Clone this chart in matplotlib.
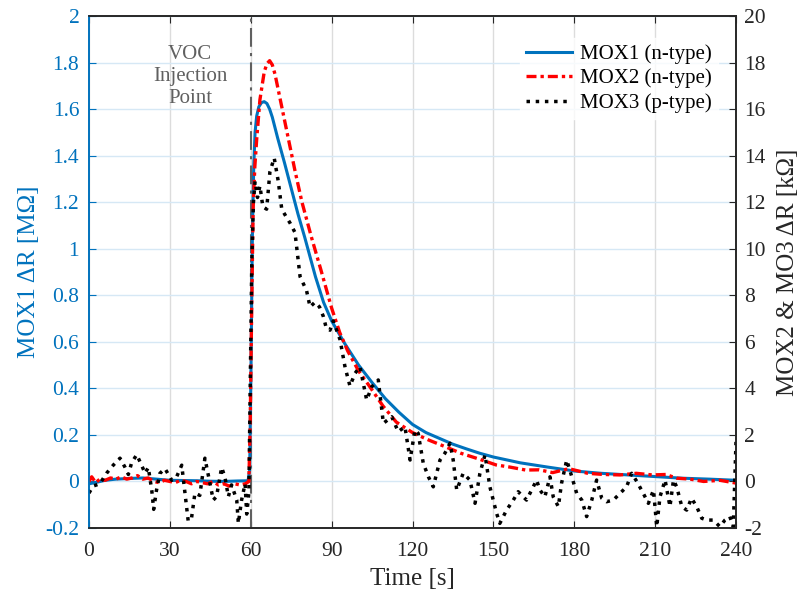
# -*- coding: utf-8 -*-

import numpy as np
import matplotlib
matplotlib.use('Agg')
from matplotlib import pyplot as plt
from matplotlib.ticker import FuncFormatter

# MOX1 (n-type), left axis [MOhm]
t_mox1 = [0, 3, 6, 10, 15, 20, 25, 30, 35, 40, 45, 50, 55, 59, 59.6, 60.1, 60.6, 61.1, 61.6,
          62.2, 63, 64, 65, 66, 67, 68, 70, 72.5, 75, 77.5, 80, 84, 87, 90, 95, 100, 105, 110,
          115, 120, 125, 130, 135, 140, 145, 150, 160, 170, 180, 190, 200, 210, 220, 230, 240]
mox1 = [-0.01, -0.003, 0.005, 0.01, 0.013, 0.015, 0.01, 0.005, 0.004, 0.003, 0.001, 0.0, 0.002,
        0.003, 0.05, 0.5, 1.05, 1.35, 1.5, 1.57, 1.61, 1.628, 1.632, 1.624, 1.6, 1.565, 1.475,
        1.37, 1.26, 1.15, 1.05, 0.88, 0.77, 0.69, 0.59, 0.5, 0.425, 0.355, 0.297, 0.245, 0.21,
        0.185, 0.16, 0.14, 0.121, 0.105, 0.08, 0.062, 0.045, 0.035, 0.028, 0.021, 0.014, 0.01,
        0.005]

# MOX2 (n-type), right axis [kOhm]
t_mox2 = [0, 1, 2.5, 4, 6, 8, 10, 12, 14, 16, 18, 20, 22, 24, 26, 28, 30, 32, 34, 36, 38, 40, 42,
          44, 46, 48, 50, 52, 54, 56, 58, 59.3, 59.8, 60.3, 60.9, 61.5, 62.2, 63.4, 65, 66, 67,
          68, 69, 71.5, 74, 76.5, 79, 82.5, 86, 90, 93, 96, 100, 104, 109, 114, 120, 126, 132,
          138, 145, 151, 156, 162, 167, 172, 178, 185, 191, 197, 203, 209, 214, 218, 223, 228,
          234, 240]
mox2 = [0.0, 0.2, -0.05, 0.1, 0.05, 0.15, 0.1, 0.2, 0.1, 0.15, 0.25, 0.1, 0.15, 0.0, -0.05, 0.05,
        0.0, -0.05, 0.05, 0.0, -0.1, 0.0, -0.05, -0.1, 0.0, -0.15, -0.1, -0.2, -0.1, -0.15, -0.1,
        0.0, 2.5, 7.0, 11.8, 13.5, 14.7, 16.4, 17.6, 17.95, 18.08, 17.9, 17.5, 16.1, 14.7, 13.3,
        12.0, 10.5, 9.1, 7.45, 6.4, 5.6, 4.75, 4.1, 3.25, 2.55, 2.1, 1.78, 1.5, 1.21, 0.95,
        0.71, 0.62, 0.49, 0.5, 0.38, 0.55, 0.35, 0.3, 0.28, 0.35, 0.28, 0.3, 0.14, 0.1, 0.0,
        0.05, -0.07]

# MOX3 (p-type), right axis [kOhm]
t_mox3 = [0, 1.5, 4, 6.5, 9, 11.5, 13.4, 14.6, 15.8, 17.7, 19.5, 20.8, 22, 23.3, 24, 25, 26.3,
          28.2, 30.7, 32.5, 34.4, 35.6, 36.8, 38, 39.3, 41.1, 42.4, 43, 44.9, 46.1, 47.3, 49.2,
          50.4, 51.7, 52.9, 54.8, 55.4, 56.6, 57.9, 58.5, 59.3, 59.8, 60.4, 61, 61.6, 62.5, 63.4,
          64.5, 65.9, 67.1, 68.7, 70.2, 71.5, 73, 74.6, 76.4, 78.3, 80.7, 82, 83.8, 85.5, 86.9,
          88, 89.4, 90.6, 93.1, 95, 96.8, 98.7, 100.5, 103, 104.9, 107.3, 109.2, 112.3, 114.7,
          117.2, 119.1, 120.9, 122.1, 124, 125.9, 127.7, 130.2, 132, 133.9, 135.1, 136.4, 138.8,
          141.3, 143.2, 145, 146.9, 148.7, 151.2, 152.4, 154.9, 157.4, 159.2, 162.3, 164.8, 166,
          167.3, 169.1, 171, 172.2, 174.1, 175.3, 177.2, 179.1, 180.9, 182.8, 184.6, 186.5, 188.3,
          190.2, 192, 194.5, 197, 199.4, 201.3, 203.2, 205.6, 207.5, 209.4, 210.6, 211.8, 213.7,
          215.5, 216.8, 218, 219.9, 221.7, 223.5, 225.4, 227.3, 229.1, 231.6, 234, 235.9, 237.7,
          239, 240]
mox3 = [-0.5, -0.2, -0.1, 0.35, 0.7, 1.0, 0.6, 0.3, 0.8, 1.15, 0.7, 0.35, 0.6, -0.4, -1.2, -0.4,
        0.35, 0.55, 0.05, 0.2, 0.7, -0.5, -1.7, -1.6, -0.5, -0.6, 0.5, 1.0, -0.1, -0.8, -0.65,
        0.6, 0.2, -0.65, -0.15, -0.8, -1.8, -0.8, -0.1, -1.4, -0.5, 4.0, 9.5, 12.0, 12.9, 12.2,
        12.7, 11.8, 11.7, 13.3, 13.9, 12.9, 11.7, 11.4, 11.1, 10.7, 8.8, 8.2, 7.5, 7.7, 7.5, 7.1,
        6.6, 6.5, 6.9, 6.1, 4.9, 4.1, 4.65, 4.93, 3.5, 4.07, 4.36, 2.5, 2.78, 2.14, 2.35, 0.92,
        2.21, 2.07, 0.78, 0.2, -0.23, 0.92, 1.21, 1.64, 0.92, -0.37, 0.35, 0.06, -0.94, 0.35,
        1.14, -0.23, -1.37, -1.8, -1.23, -0.8, -0.44, -0.8, -0.23, 0.06, -0.37, -0.66, 0.2,
        -0.66, -1.08, -0.07, 0.92, 0.2, -0.51, -0.8, -1.51, -0.8, 0.06, -0.72, -0.87, -0.8,
        -0.51, -0.23, 0.35, 0.0, -0.51, -0.94, -0.37, -1.94, -0.66, 0.06, -1.08, 0.06, -0.23,
        -1.08, -1.23, -0.72, -1.08, -1.58, -1.66, -1.66, -1.94, -1.66, -1.51, -1.94, 1.7]

x_ticks = [0, 30, 60, 90, 120, 150, 180, 210, 240]
left_ticks = [-0.2, 0, 0.2, 0.4, 0.6, 0.8, 1, 1.2, 1.4, 1.6, 1.8, 2]
right_ticks = [-2, 0, 2, 4, 6, 8, 10, 12, 14, 16, 18, 20]
injection_time = 60

blue = '#0072BD'
red = '#FF0000'

plt.rcParams['font.family'] = ['Liberation Serif', 'DejaVu Serif']
plt.rcParams['axes.unicode_minus'] = False

fig = plt.figure(figsize=(8.06, 5.97), dpi=100)
ax1 = fig.add_axes([89 / 806, 1 - 528 / 597, 647 / 806, 512 / 597])
ax2 = ax1.twinx()

fmt = FuncFormatter(lambda v, p: '%g' % round(v, 3))

# grid
ax1.set_axisbelow(True)
ax1.yaxis.grid(True, color='#d6e8f5', lw=1)
ax1.xaxis.grid(True, color='#dcdcdc', lw=1)

# injection marker
ax1.axvline(injection_time, color='#606060', lw=1.5, ls=(0, (9, 3, 1.5, 3)), zorder=1)
ax1.text(37.5, 1.74, 'VOC\nInjection\nPoint', ha='center', va='center',
         fontsize=15, color='#606060', linespacing=1.2)

l1, = ax1.plot(t_mox1, mox1, color=blue, lw=2.2, label='MOX1 (n-type)')
l2, = ax2.plot(t_mox2, mox2, color=red, lw=2.4, dashes=[3, 1.2, 1, 1.2], label='MOX2 (n-type)')
l3, = ax2.plot(t_mox3, mox3, color='black', lw=2.5, ls=':', label='MOX3 (p-type)')

ax1.set_xlim(0, 240)
ax1.set_ylim(-0.2, 2)
ax2.set_ylim(-2, 20)
ax1.set_xticks(x_ticks)
ax1.set_yticks(left_ticks)
ax2.set_yticks(right_ticks)
ax1.yaxis.set_major_formatter(fmt)
ax2.yaxis.set_major_formatter(fmt)

ax1.tick_params(axis='x', direction='in', top=True, length=5, labelsize=15.5, colors='#262626', pad=10)
ax1.tick_params(axis='y', direction='in', length=5, labelsize=15.5, colors=blue, pad=7)
ax2.tick_params(axis='y', direction='in', length=5, labelsize=15.5, colors='#262626', pad=6)

for a in (ax1, ax2):
    a.spines['left'].set_color(blue)
    a.spines['right'].set_color('#262626')
    a.spines['top'].set_color('#262626')
    a.spines['bottom'].set_color('#262626')
    for s in a.spines.values():
        s.set_linewidth(1.2)

ax1.set_xlabel('Time [s]', fontsize=18, color='#262626', labelpad=5)
ax1.set_ylabel('MOX1 \u0394R [M\u03a9]', fontsize=18, color=blue, labelpad=4)
ax2.set_ylabel('MOX2 & MO3 \u0394R [k\u03a9]', fontsize=18, color='#262626', labelpad=8)

leg = ax2.legend(handles=[l1, l2, l3], loc='upper right', bbox_to_anchor=(0.989, 0.977),
                 fontsize=15, frameon=True, fancybox=False, handlelength=2.2,
                 handletextpad=0.4, labelspacing=0.22, borderpad=0.3)
leg.get_frame().set_facecolor('white')
leg.get_frame().set_edgecolor('white')

fig.savefig('out.png', dpi=100)
